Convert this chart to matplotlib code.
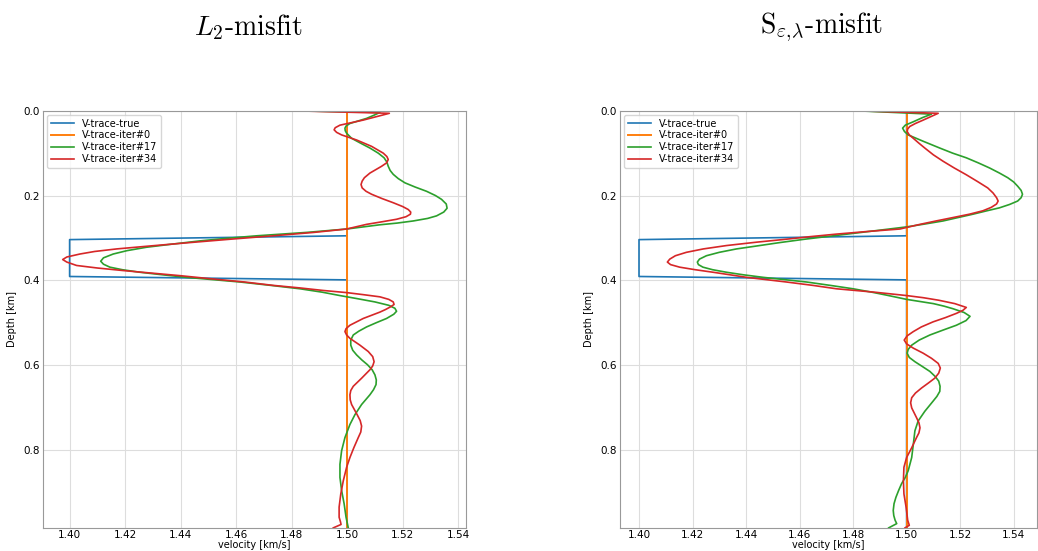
import numpy as np
import matplotlib
matplotlib.use("Agg")
import matplotlib.pyplot as plt

plt.rcParams['mathtext.fontset'] = 'cm'

# true model and starting model (depth [km], velocity [km/s])
true_depth = [0.0, 0.295, 0.304, 0.391, 0.399, 0.984]
true_vel = [1.50, 1.50, 1.40, 1.40, 1.50, 1.50]
init_depth = [0.0, 0.984]
init_vel = [1.50, 1.50]

# (depth, velocity)
# L2 misfit, iteration 17
l2_it17 = [(0.0, 1.4806), (0.004, 1.5118), (0.011, 1.5095), (0.018, 1.5070), (0.030, 1.5010),
           (0.036, 1.4996), (0.041, 1.4992), (0.047, 1.4993), (0.053, 1.4998), (0.065, 1.5016),
           (0.076, 1.5047), (0.088, 1.5082), (0.100, 1.5112), (0.111, 1.5133), (0.121, 1.5143),
           (0.131, 1.5148), (0.141, 1.5155), (0.150, 1.5166), (0.160, 1.5184), (0.170, 1.5208),
           (0.180, 1.5245), (0.190, 1.5286), (0.200, 1.5318), (0.209, 1.5340), (0.220, 1.5357),
           (0.230, 1.5360), (0.239, 1.5348), (0.248, 1.5322), (0.254, 1.5290), (0.260, 1.5238),
           (0.265, 1.5180), (0.269, 1.5118), (0.279, 1.4998), (0.287, 1.4854), (0.295, 1.4674),
           (0.301, 1.4565), (0.307, 1.4470), (0.315, 1.4365), (0.322, 1.4277), (0.330, 1.4207),
           (0.338, 1.4157), (0.347, 1.4122), (0.355, 1.4112), (0.362, 1.4122), (0.369, 1.4145),
           (0.375, 1.4190), (0.381, 1.4253), (0.387, 1.4335), (0.393, 1.4421), (0.404, 1.4614),
           (0.412, 1.4725), (0.420, 1.4830), (0.428, 1.4910), (0.436, 1.4974), (0.443, 1.5034),
           (0.451, 1.5100), (0.459, 1.5150), (0.466, 1.5172), (0.473, 1.5178), (0.480, 1.5168),
           (0.490, 1.5142), (0.500, 1.5105), (0.510, 1.5070), (0.520, 1.5042), (0.529, 1.5022),
           (0.541, 1.5013), (0.553, 1.5013), (0.565, 1.5020), (0.576, 1.5034), (0.588, 1.5053),
           (0.599, 1.5073), (0.611, 1.5090), (0.623, 1.5100), (0.635, 1.5105), (0.646, 1.5104),
           (0.658, 1.5095), (0.670, 1.5082), (0.693, 1.5052), (0.717, 1.5028), (0.740, 1.5010),
           (0.771, 1.4992), (0.802, 1.4980), (0.834, 1.4974), (0.865, 1.4974), (0.896, 1.4980),
           (0.927, 1.4989), (0.959, 1.4996), (0.984, 1.5004)]

# L2 misfit, iteration 34
l2_it34 = [(0.0, 1.4806), (0.006, 1.5152), (0.014, 1.5105), (0.022, 1.5058), (0.034, 1.4974),
           (0.040, 1.4957), (0.045, 1.4953), (0.051, 1.4962), (0.057, 1.4980), (0.069, 1.5034),
           (0.084, 1.5088), (0.100, 1.5130), (0.108, 1.5143), (0.115, 1.5148), (0.123, 1.5142),
           (0.131, 1.5124), (0.147, 1.5082), (0.158, 1.5062), (0.166, 1.5054), (0.174, 1.5050),
           (0.182, 1.5054), (0.190, 1.5068), (0.197, 1.5088), (0.207, 1.5125), (0.217, 1.5166),
           (0.226, 1.5200), (0.233, 1.5220), (0.239, 1.5229), (0.244, 1.5228), (0.250, 1.5212),
           (0.256, 1.5178), (0.262, 1.5125), (0.268, 1.5070), (0.279, 1.4998), (0.287, 1.4880),
           (0.295, 1.4734), (0.303, 1.4580), (0.311, 1.4433), (0.319, 1.4290), (0.326, 1.4169),
           (0.332, 1.4090), (0.338, 1.4037), (0.345, 1.3990), (0.351, 1.3975), (0.357, 1.3990),
           (0.365, 1.4025), (0.371, 1.4100), (0.377, 1.4193), (0.383, 1.4295), (0.389, 1.4397),
           (0.397, 1.4518), (0.404, 1.4630), (0.412, 1.4734), (0.418, 1.4830), (0.424, 1.4914),
           (0.429, 1.4998), (0.434, 1.5060), (0.439, 1.5118), (0.445, 1.5150), (0.451, 1.5166),
           (0.457, 1.5169), (0.463, 1.5155), (0.469, 1.5138), (0.475, 1.5118), (0.490, 1.5058),
           (0.506, 1.5010), (0.514, 1.4996), (0.521, 1.4992), (0.529, 1.4998), (0.537, 1.5010),
           (0.553, 1.5046), (0.568, 1.5076), (0.580, 1.5092), (0.592, 1.5097), (0.602, 1.5092),
           (0.611, 1.5082), (0.631, 1.5052), (0.650, 1.5022), (0.660, 1.5013), (0.670, 1.5010),
           (0.682, 1.5011), (0.693, 1.5016), (0.717, 1.5036), (0.731, 1.5047), (0.744, 1.5052),
           (0.758, 1.5049), (0.771, 1.5040), (0.795, 1.5024), (0.818, 1.5010), (0.841, 1.4998),
           (0.873, 1.4986), (0.904, 1.4977), (0.935, 1.4971), (0.959, 1.4971), (0.970, 1.4976),
           (0.976, 1.4978), (0.984, 1.4950)]

# S misfit, iteration 17
s_it17 = [(0.0, 1.4812), (0.008, 1.5093), (0.016, 1.5060), (0.026, 1.5025), (0.034, 1.4995),
          (0.041, 1.4985), (0.049, 1.4992), (0.057, 1.5006), (0.072, 1.5062), (0.088, 1.5124),
          (0.100, 1.5172), (0.111, 1.5223), (0.123, 1.5268), (0.135, 1.5310), (0.147, 1.5347),
          (0.158, 1.5378), (0.168, 1.5400), (0.178, 1.5415), (0.188, 1.5428), (0.197, 1.5433),
          (0.205, 1.5428), (0.213, 1.5415), (0.221, 1.5385), (0.229, 1.5347), (0.236, 1.5300),
          (0.244, 1.5248), (0.252, 1.5192), (0.260, 1.5136), (0.267, 1.5070), (0.274, 1.5000),
          (0.284, 1.4870), (0.295, 1.4726), (0.303, 1.4620), (0.311, 1.4526), (0.319, 1.4440),
          (0.326, 1.4364), (0.334, 1.4300), (0.342, 1.4252), (0.350, 1.4226), (0.357, 1.4218),
          (0.363, 1.4222), (0.369, 1.4239), (0.375, 1.4275), (0.381, 1.4327), (0.387, 1.4390),
          (0.393, 1.4464), (0.404, 1.4626), (0.412, 1.4715), (0.420, 1.4800), (0.428, 1.4870),
          (0.435, 1.4925), (0.445, 1.5000), (0.455, 1.5100), (0.461, 1.5140), (0.467, 1.5173),
          (0.476, 1.5215), (0.485, 1.5237), (0.495, 1.5222), (0.506, 1.5186), (0.517, 1.5138),
          (0.529, 1.5087), (0.541, 1.5047), (0.553, 1.5019), (0.563, 1.5006), (0.572, 1.5002),
          (0.582, 1.5010), (0.592, 1.5031), (0.603, 1.5058), (0.615, 1.5087), (0.627, 1.5107),
          (0.638, 1.5120), (0.650, 1.5125), (0.662, 1.5124), (0.674, 1.5113), (0.685, 1.5099),
          (0.709, 1.5068), (0.732, 1.5043), (0.755, 1.5031), (0.787, 1.5025), (0.818, 1.5019),
          (0.849, 1.5006), (0.865, 1.4995), (0.880, 1.4981), (0.896, 1.4970), (0.912, 1.4960),
          (0.927, 1.4953), (0.943, 1.4950), (0.955, 1.4952), (0.966, 1.4957), (0.974, 1.4963),
          (0.984, 1.4933)]

# S misfit, iteration 34
s_it34 = [(0.0, 1.4812), (0.006, 1.5118), (0.014, 1.5090), (0.022, 1.5062), (0.030, 1.5033),
          (0.037, 1.5012), (0.043, 1.5004), (0.049, 1.5002), (0.057, 1.5010), (0.065, 1.5025),
          (0.076, 1.5045), (0.088, 1.5068), (0.104, 1.5100), (0.119, 1.5136), (0.135, 1.5178),
          (0.151, 1.5223), (0.167, 1.5265), (0.182, 1.5303), (0.194, 1.5323), (0.205, 1.5336),
          (0.213, 1.5342), (0.220, 1.5336), (0.228, 1.5316), (0.236, 1.5285), (0.244, 1.5235),
          (0.252, 1.5173), (0.260, 1.5110), (0.268, 1.5050), (0.279, 1.4975), (0.285, 1.4850),
          (0.291, 1.4738), (0.297, 1.4640), (0.303, 1.4551), (0.310, 1.4440), (0.318, 1.4327),
          (0.326, 1.4240), (0.334, 1.4177), (0.342, 1.4136), (0.350, 1.4115), (0.357, 1.4106),
          (0.363, 1.4118), (0.369, 1.4152), (0.375, 1.4210), (0.381, 1.4277), (0.387, 1.4340),
          (0.393, 1.4402), (0.404, 1.4551), (0.412, 1.4650), (0.420, 1.4738), (0.428, 1.4880),
          (0.436, 1.5000), (0.441, 1.5062), (0.447, 1.5120), (0.455, 1.5180), (0.464, 1.5223),
          (0.471, 1.5210), (0.478, 1.5186), (0.488, 1.5145), (0.498, 1.5099), (0.510, 1.5055),
          (0.521, 1.5025), (0.531, 1.5002), (0.541, 1.4991), (0.550, 1.5000), (0.560, 1.5025),
          (0.572, 1.5062), (0.584, 1.5093), (0.596, 1.5118), (0.607, 1.5126), (0.619, 1.5120),
          (0.631, 1.5105), (0.642, 1.5082), (0.654, 1.5056), (0.666, 1.5033), (0.677, 1.5019),
          (0.689, 1.5015), (0.701, 1.5019), (0.724, 1.5037), (0.736, 1.5046), (0.748, 1.5050),
          (0.760, 1.5046), (0.771, 1.5037), (0.795, 1.5019), (0.818, 1.5000), (0.841, 1.4990),
          (0.873, 1.4988), (0.904, 1.4990), (0.935, 1.4998), (0.966, 1.5004), (0.978, 1.5010),
          (0.984, 1.4994)]

labels = ['V-trace-true', 'V-trace-iter#0', 'V-trace-iter#17', 'V-trace-iter#34']
colors = ['#1f77b4', '#ff7f0e', '#2ca02c', '#d62728']
xticks = [1.40, 1.42, 1.44, 1.46, 1.48, 1.50, 1.52, 1.54]
yticks = [0.0, 0.2, 0.4, 0.6, 0.8]

fig = plt.figure(figsize=(10.38, 5.51), dpi=100)
ax1 = fig.add_axes([0.0414, 0.042, 0.4075, 0.757])
ax2 = fig.add_axes([0.5973, 0.042, 0.4022, 0.757])


def draw_panel(ax, it17, it34, xlim):
    d17, v17 = np.array(it17).T
    d34, v34 = np.array(it34).T
    ax.plot(true_vel, true_depth, color=colors[0], lw=1.2, label=labels[0])
    ax.plot(init_vel, init_depth, color=colors[1], lw=1.4, label=labels[1])
    ax.plot(v17, d17, color=colors[2], lw=1.2, label=labels[2], solid_joinstyle='round')
    ax.plot(v34, d34, color=colors[3], lw=1.2, label=labels[3], solid_joinstyle='round')
    ax.set_xlim(xlim)
    ax.set_ylim(0.984, 0.0)
    ax.set_xticks(xticks)
    ax.set_yticks(yticks)
    ax.set_xticklabels(['%.2f' % t for t in xticks])
    ax.set_yticklabels(['%.1f' % t for t in yticks])
    ax.tick_params(length=0, labelsize=7.5, pad=2.5)
    ax.tick_params(axis='x', pad=1.5)
    ax.grid(True, color='#dddddd', lw=0.8)
    for s in ax.spines.values():
        s.set_color('#999999')
    ax.set_ylabel('Depth [km]', fontsize=7, labelpad=4)
    ax.set_xlabel('velocity [km/s]', fontsize=7, labelpad=0)
    ax.legend(loc='upper left', fontsize=7, handlelength=2.4, borderaxespad=0.4,
              labelspacing=0.2, fancybox=True, framealpha=0.8)


draw_panel(ax1, l2_it17, l2_it34, (1.3904, 1.5428))
draw_panel(ax2, s_it17, s_it34, (1.3929, 1.5489))

fig.text(248 / 1038, 1 - 27 / 551, r'$L_2$-misfit', ha='center', va='center',
         fontsize=20, family='cmr10')
fig.text(822 / 1038, 1 - 27 / 551, r'$\mathrm{S}_{\varepsilon,\!\lambda}$-misfit', ha='center',
         va='center', fontsize=20, family='cmr10')

fig.savefig('out.png', dpi=100)
